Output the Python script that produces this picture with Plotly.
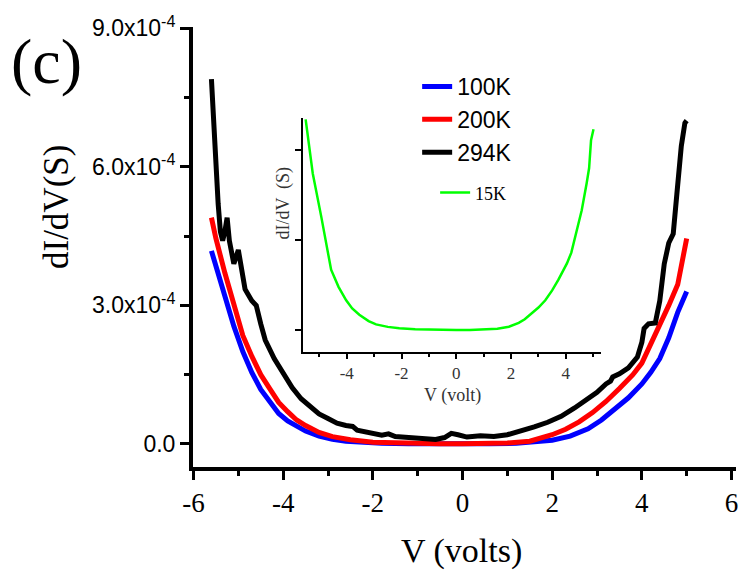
import plotly.graph_objects as go

SERIF = "Liberation Serif"
SANS = "Liberation Sans"

# ---------------- data (main panel, dI/dV in units of 1e-4 S) ----------------
v_100K = [-5.6, -5.5, -5.3, -5.1, -4.9, -4.7, -4.5, -4.3, -4.1, -3.9, -3.7, -3.5, -3.2, -2.9,
          -2.6, -2.2, -1.8, -1.2, -0.6, 0.0, 0.6, 1.2, 1.6, 2.0, 2.4, 2.8, 3.1, 3.4, 3.7, 4.0,
          4.2, 4.4, 4.6, 4.8, 5.0]
g_100K = [4.18, 3.85, 3.15, 2.55, 2.0, 1.55, 1.18, 0.9, 0.66, 0.5, 0.38, 0.28, 0.17, 0.1,
          0.06, 0.03, 0.015, 0.005, 0.0, 0.0, 0.005, 0.015, 0.04, 0.08, 0.17, 0.33, 0.52, 0.75,
          1.0, 1.3, 1.55, 1.85, 2.3, 2.85, 3.3]

v_200K = [-5.6, -5.5, -5.3, -5.1, -4.9, -4.7, -4.5, -4.3, -4.1, -3.9, -3.7, -3.5, -3.2, -2.9,
          -2.5, -2.0, -1.5, -1.0, -0.5, 0.0, 0.5, 1.0, 1.5, 2.0, 2.3, 2.6, 2.9, 3.2, 3.5, 3.8,
          4.0, 4.2, 4.4, 4.6, 4.8, 4.9, 5.0]
g_200K = [4.9, 4.45, 3.7, 3.0, 2.35, 1.9, 1.5, 1.2, 0.9, 0.7, 0.52, 0.4, 0.25, 0.16,
          0.09, 0.04, 0.02, 0.01, 0.005, 0.005, 0.01, 0.02, 0.06, 0.2, 0.32, 0.48, 0.68, 0.92,
          1.2, 1.5, 1.75, 2.15, 2.6, 3.0, 3.45, 3.9, 4.45]

v_294K = [-5.6, -5.55, -5.5, -5.45, -5.4, -5.35, -5.3, -5.25, -5.2, -5.1, -5.0, -4.95, -4.85,
          -4.7, -4.6, -4.5, -4.4, -4.2, -4.0, -3.8, -3.6, -3.4, -3.2, -3.0, -2.8, -2.6, -2.45,
          -2.35, -2.1, -1.8, -1.65, -1.5, -1.2, -0.9, -0.6, -0.4, -0.25, -0.1, 0.1, 0.4, 0.7,
          1.0, 1.3, 1.6, 1.9, 2.2, 2.5, 2.8, 3.0, 3.2, 3.3, 3.35, 3.5, 3.7, 3.9, 4.0, 4.05,
          4.15, 4.3, 4.4, 4.5, 4.6, 4.7, 4.78, 4.88, 4.96, 5.0]
g_294K = [7.9, 6.9, 6.0, 5.2, 4.6, 4.4, 4.6, 4.9, 4.4, 3.9, 4.2, 3.9, 3.35,
          3.1, 3.0, 2.6, 2.25, 1.85, 1.52, 1.22, 0.98, 0.82, 0.65, 0.55, 0.45, 0.4, 0.38,
          0.3, 0.25, 0.19, 0.22, 0.16, 0.14, 0.12, 0.1, 0.14, 0.23, 0.2, 0.15, 0.18, 0.16,
          0.2, 0.28, 0.37, 0.47, 0.6, 0.78, 0.98, 1.12, 1.3, 1.36, 1.45, 1.52, 1.65, 1.88, 2.2, 2.5,
          2.6, 2.62, 3.1, 3.9, 4.35, 4.55, 5.4, 6.45, 6.95, 7.0]

# ---------------- data (inset, 15 K, arbitrary units) ----------------
v_15K = [-5.5, -5.24, -4.93, -4.57, -4.3, -4.02, -3.8, -3.54, -3.2, -2.93, -2.5, -2.08, -1.5,
         -1.0, -0.5, 0.0, 0.5, 1.0, 1.5, 1.92, 2.28, 2.5, 2.76, 3.0, 3.25, 3.5, 3.73, 4.04,
         4.2, 4.34, 4.58, 4.76, 4.85, 4.92, 5.01]
g_15K = [2.34, 1.74, 1.26, 0.67, 0.48, 0.33, 0.24, 0.17, 0.1, 0.063, 0.035, 0.02, 0.008,
         0.003, 0.0, 0.0, 0.0, 0.005, 0.015, 0.037, 0.08, 0.12, 0.185, 0.25, 0.33, 0.44, 0.56,
         0.74, 0.86, 1.04, 1.33, 1.63, 1.8, 2.11, 2.23]

x_ticks = [-6, -4, -2, 0, 2, 4, 6]
x_ticktext = ["-6", "-4", "-2", "0", "2", "4", "6"]
x_minor_step = 1
y_ticks = [0.0, 3.0e-4, 6.0e-4, 9.0e-4]
y_ticktext = ["0.0", "3.0x10<sup>-4</sup>", "6.0x10<sup>-4</sup>", "9.0x10<sup>-4</sup>"]
y_minor_step = 1.5e-4
inset_x_ticks = [-4, -2, 0, 2, 4]
inset_x_ticktext = ["-4", "-2", "0", "2", "4"]
inset_y_ticks = [0, 1, 2]

series = [
    ("100K", v_100K, g_100K, "#0000FF"),
    ("200K", v_200K, g_200K, "#FF0000"),
    ("294K", v_294K, g_294K, "#000000"),
]

fig = go.Figure()
for name, xs, ys, color in series:
    fig.add_trace(go.Scatter(
        x=xs, y=[v * 1e-4 for v in ys], mode="lines", name=name,
        line=dict(color=color, width=5), legend="legend",
    ))

fig.add_trace(go.Scatter(
    x=v_15K, y=g_15K, mode="lines", name="15K",
    line=dict(color="#00FF00", width=2.5), xaxis="x2", yaxis="y2", legend="legend2",
))

fig.update_layout(
    width=744, height=574,
    margin=dict(l=193, r=6, t=27, b=107),
    paper_bgcolor="white", plot_bgcolor="rgba(0,0,0,0)",
    showlegend=True,
    xaxis=dict(
        range=[-6.011, 6.10],
        showline=True, linewidth=4, linecolor="black",
        ticks="outside", ticklen=9, tickwidth=3, tickcolor="black",
        tickmode="array", tickvals=x_ticks, ticktext=x_ticktext,
        tickfont=dict(family=SERIF, size=27, color="black"),
        minor=dict(ticks="outside", tick0=0, dtick=x_minor_step, ticklen=5, tickwidth=3,
                   tickcolor="black"),
        showgrid=False, zeroline=False,
    ),
    yaxis=dict(
        range=[-0.498e-4, 9.026e-4],
        showline=True, linewidth=4, linecolor="black",
        ticks="outside", ticklen=9, tickwidth=3, tickcolor="black",
        tickmode="array", tickvals=y_ticks, ticktext=y_ticktext,
        tickfont=dict(family=SANS, size=23, color="black"),
        minor=dict(ticks="outside", tick0=0, dtick=y_minor_step, ticklen=5, tickwidth=3,
                   tickcolor="black"),
        showgrid=False, zeroline=False,
    ),
    xaxis2=dict(
        domain=[0.2024, 0.7517], range=[-5.6, 5.29], anchor="y2",
        showline=True, linewidth=2, linecolor="black",
        ticks="outside", ticklen=5, tickwidth=1.5, tickcolor="black",
        tickmode="array", tickvals=inset_x_ticks, ticktext=inset_x_ticktext,
        tickfont=dict(family=SERIF, size=17, color="#333333"),
        minor=dict(ticks="outside", tick0=0, dtick=1, ticklen=3, tickwidth=1.5,
                   tickcolor="black"),
        showgrid=False, zeroline=False,
    ),
    yaxis2=dict(
        domain=[0.262, 0.7932], range=[-0.241, 2.356], anchor="x2",
        showline=True, linewidth=2, linecolor="black",
        ticks="outside", ticklen=6, tickwidth=1.5, tickcolor="black",
        tickmode="array", tickvals=inset_y_ticks, showticklabels=False,
        showgrid=False, zeroline=False,
    ),
    legend=dict(
        x=0.4128, y=0.9136, xanchor="left", yanchor="top",
        bgcolor="rgba(0,0,0,0)", borderwidth=0,
        font=dict(family=SANS, size=23, color="black"),
        itemwidth=30, tracegroupgap=0,
    ),
    legend2=dict(
        x=0.4459, y=0.665, xanchor="left", yanchor="top",
        bgcolor="rgba(0,0,0,0)", borderwidth=0,
        font=dict(family=SERIF, size=18, color="black"),
    ),
    annotations=[
        dict(text="(c)", x=-0.2697, y=0.9227, xref="paper", yref="paper",
             xanchor="center", yanchor="middle", showarrow=False,
             font=dict(family=SERIF, size=64, color="black")),
        dict(text="dI/dV(S)", x=-0.2514, y=0.592, xref="paper", yref="paper",
             xanchor="center", yanchor="middle", showarrow=False, textangle=-90,
             font=dict(family=SERIF, size=35, color="black")),
        dict(text="V (volts)", x=0.4936, y=-0.1909, xref="paper", yref="paper",
             xanchor="center", yanchor="middle", showarrow=False,
             font=dict(family=SERIF, size=34, color="black")),
        dict(text="V (volt)", x=0.477, y=0.1636, xref="paper", yref="paper",
             xanchor="center", yanchor="middle", showarrow=False,
             font=dict(family=SERIF, size=18, color="#333333")),
        dict(text="dI/dV  (S)", x=0.165, y=0.6, xref="paper", yref="paper",
             xanchor="center", yanchor="middle", showarrow=False, textangle=-90,
             font=dict(family=SERIF, size=18, color="#333333")),
    ],
)

fig.write_html("out.html", config={"displayModeBar": False},
               post_script="document.body.style.margin='0';")
